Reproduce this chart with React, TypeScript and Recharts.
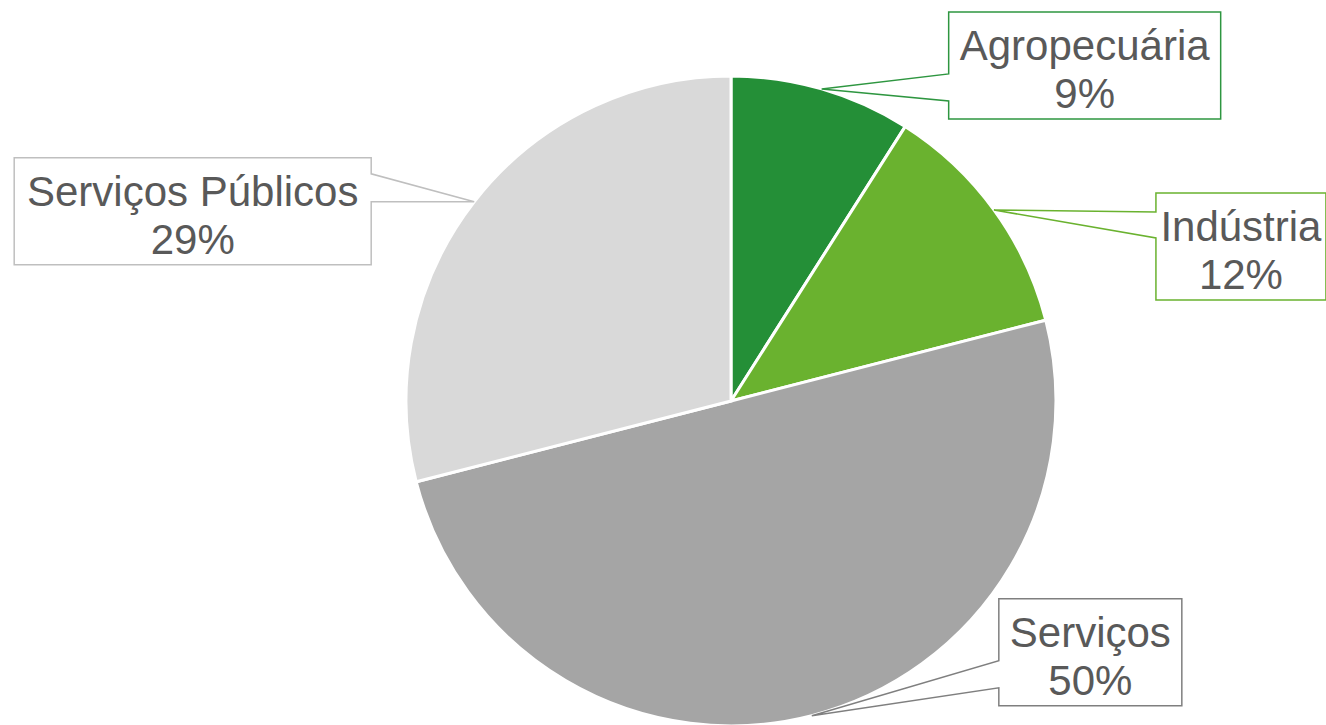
import React from "react";
import { PieChart, Pie, Cell } from "recharts";

const sectors = ["Agropecuária", "Indústria", "Serviços", "Serviços Públicos"];
const shares = [9, 12, 50, 29];
const fills = ["#248F37", "#6AB22F", "#A5A5A5", "#D9D9D9"];
const borders = ["#2E9640", "#6AB22F", "#7F7F7F", "#BFBFBF"];

// callout box placement, relative to the point on the rim at mid-angle
// side: which edge of the box the pointer attaches to; a1/a2: attach offsets from box top
const callouts = [
  { dx: 127, dy: -77, w: 272, side: "left", a1: 62, a2: 89 },
  { dx: 162, dy: -17, w: 170, side: "left", a1: 19, a2: 45 },
  { dx: 187, dy: -117, w: 183, side: "left", a1: 62, a2: 89 },
  { dx: -460, dy: -44, w: 357, side: "right", a1: 16, a2: 44 },
];

const data = sectors.map((name, i) => ({ name, value: shares[i] }));

const RAD = Math.PI / 180;
const BOX_H = 107;

const CalloutLabel = (props: any) => {
  const { cx, cy, midAngle, outerRadius, index, name, percent } = props;
  const px = cx + outerRadius * Math.cos(-midAngle * RAD);
  const py = cy + outerRadius * Math.sin(-midAngle * RAD);
  const c = callouts[index];
  const x0 = px + c.dx;
  const y0 = py + c.dy;
  const x1 = x0 + c.w;
  const y1 = y0 + BOX_H;

  let d = "";
  if (c.side === "left") {
    d = `M${x0},${y0} L${x1},${y0} L${x1},${y1} L${x0},${y1} L${x0},${y0 + c.a2} L${px},${py} L${x0},${y0 + c.a1} Z`;
  } else {
    d = `M${x0},${y0} L${x1},${y0} L${x1},${y0 + c.a1} L${px},${py} L${x1},${y0 + c.a2} L${x1},${y1} L${x0},${y1} Z`;
  }
  const tx = x0 + c.w / 2;
  return (
    <g>
      <path d={d} fill="#fff" stroke={borders[index]} strokeWidth={1.5} />
      <text
        x={tx}
        y={y0 + 48}
        textAnchor="middle"
        fill="#595959"
        fontSize={42}
        fontFamily="'Liberation Sans', Arial, sans-serif"
      >
        {name}
      </text>
      <text
        x={tx}
        y={y0 + 96}
        textAnchor="middle"
        fill="#595959"
        fontSize={42}
        fontFamily="'Liberation Sans', Arial, sans-serif"
      >
        {Math.round(percent * 100)}%
      </text>
    </g>
  );
};

export default function App() {
  return (
    <div style={{ position: "absolute", left: 0, top: 0, background: "#fff" }}>
      <PieChart width={1326} height={725} margin={{ top: 0, right: 0, bottom: 0, left: 0 }}>
        <Pie
          data={data}
          dataKey="value"
          nameKey="name"
          cx={731}
          cy={401}
          outerRadius={325}
          startAngle={90}
          endAngle={-270}
          stroke="#fff"
          strokeWidth={3}
          label={CalloutLabel}
          labelLine={false}
          isAnimationActive={false}
        >
          {data.map((d, i) => (
            <Cell key={d.name} fill={fills[i]} />
          ))}
        </Pie>
      </PieChart>
    </div>
  );
}
